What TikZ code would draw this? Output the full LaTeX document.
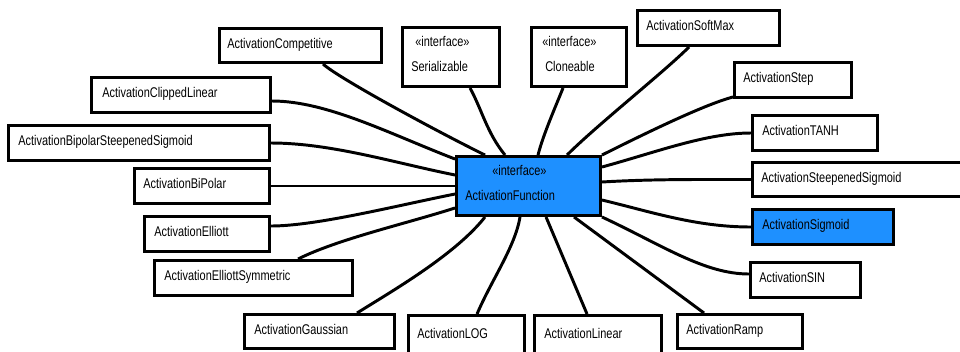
\documentclass[tikz,border=0pt]{standalone}
\usepackage{fontspec}
\setmainfont{Liberation Sans}[FakeStretch=0.78]
\usetikzlibrary{calc,fit}
\definecolor{ifaceblue}{RGB}{30,144,255}
\tikzset{
  classnode/.style={rectangle, draw=black, fill=white, line width=2.1pt, inner sep=0pt, minimum size=0pt},
  selected/.style={fill=ifaceblue},
  classlabel/.style={anchor=base west, inner sep=0pt, font=\fontsize{10}{12}\selectfont},
  link/.style={draw=black, line width=2.1pt},
}
% #1 extra style, #2 name, #3..#6 outer corners, #7 text indent, #8 class name
\newcommand\classbox[8][]{%
  \coordinate (#2-a) at ({#3+1.5},{#4+1.5});
  \coordinate (#2-b) at ({#5-1.5},{#6-1.5});
  \node[classnode, fit=(#2-a)(#2-b), #1] (#2) {};
  \node[classlabel] (#2-label) at ($(#2.west)+(#7,2.5)$) {#8};
}
% interface box: stereotype line and name line
\newcommand\ifacebox[9][]{%
  \coordinate (#2-a) at ({#3+1.5},{#4+1.5});
  \coordinate (#2-b) at ({#5-1.5},{#6-1.5});
  \node[classnode, fit=(#2-a)(#2-b), #1] (#2) {};
  \node[classlabel] (#2-stereo) at ($(#2.north west)+(#7,20)$) {«interface»};
  \node[classlabel] (#2-label) at ($(#2.north west)+(#8,45)$) {#9};
}
\begin{document}
\begin{tikzpicture}[x=0.025cm, y=-0.025cm]
\useasboundingbox (0,0) rectangle (960,351);
\clip (0,0) rectangle (960,351);

% central interface and the interfaces it extends
\ifacebox[selected]{cf}{455}{155}{602}{217}{37}{10}{ActivationFunction}
\ifacebox{ser}{401}{26}{501}{88}{14}{10}{Serializable}
\ifacebox{clo}{530}{26}{628}{88}{12}{15}{Cloneable}

% implementing classes
\classbox{comp}{218}{27}{383}{64}{9}{ActivationCompetitive}
\classbox{clip}{90}{76}{272}{114}{12}{ActivationClippedLinear}
\classbox{bss}{7}{124}{271}{162}{11}{ActivationBipolarSteepenedSigmoid}
\classbox{bip}{133}{167}{271}{205}{10}{ActivationBiPolar}
\classbox{ell}{143}{215}{271}{253}{11}{ActivationElliott}
\classbox{esym}{153}{259}{354}{297}{11}{ActivationElliottSymmetric}
\classbox{gauss}{243}{313}{396}{350}{11}{ActivationGaussian}
\classbox{log}{407}{314}{526}{357}{10}{ActivationLOG}
\classbox{lin}{533}{314}{663}{357}{11}{ActivationLinear}
\classbox{ramp}{676}{313}{804}{350}{10}{ActivationRamp}
\classbox{sin}{749}{261}{862}{299}{10}{ActivationSIN}
\classbox[selected]{sig}{751}{208}{895}{246}{11}{ActivationSigmoid}
\classbox{steep}{751}{161}{980}{198}{10}{ActivationSteepenedSigmoid}
\classbox{tanh}{751}{114}{879}{152}{11}{ActivationTANH}
\classbox{step}{733}{61}{853}{99}{10}{ActivationStep}
\classbox{soft}{636}{9}{781}{47}{10}{ActivationSoftMax}

% connectors to the central interface
\draw[link] ($(comp.south west)+(105,0)$) .. controls +(15,14) and +(-45,-22) .. ($(cf.north west)+(30,0)$);
\draw[link] ($(clip.east)+(0,6)$) .. controls +(55,0) and +(-65,-25) .. ($(cf.north west)+(0,4)$);
\draw[link] (bss.east) .. controls +(60,0) and +(-60,-12) .. ($(cf.west)+(0,-11)$);
\draw[link] (bip.east) -- (cf.west);
\draw[link] ($(ell.east)+(0,-8)$) .. controls +(45,0) and +(-60,12) .. ($(cf.west)+(0,8)$);
\draw[link] ($(esym.north west)+(145,0)$) .. controls +(40,-20) and +(-50,16) .. ($(cf.south west)+(0,-9)$);
\draw[link] ($(gauss.north west)+(114,0)$) .. controls +(35,-22) and +(-30,38) .. ($(cf.south west)+(30,0)$);
\draw[link] ($(log.north west)+(70,0)$) .. controls +(15,-35) and +(-5,30) .. ($(cf.south west)+(65,0)$);
\draw[link] ($(lin.north west)+(54,0)$) -- ($(cf.south west)+(91,0)$);
\draw[link] ($(ramp.north west)+(28,0)$) -- ($(cf.south west)+(119,0)$);
\draw[link] (cf.south east) .. controls +(60,28) and +(-45,0) .. ($(sin.west)+(0,-6)$);
\draw[link] ($(cf.east)+(0,14)$) .. controls +(50,12) and +(-55,0) .. (sig.west);
\draw[link] ($(cf.east)+(0,-4)$) .. controls +(50,-3) and +(-50,0) .. (steep.west);
\draw[link] ($(cf.east)+(0,-19)$) .. controls +(55,-15) and +(-45,0) .. (tanh.west);
\draw[link] (cf.north east) .. controls +(40,-20) and +(-30,8) .. ($(step.south west)+(0,-2)$);
\draw[link] ($(soft.south west)+(53,0)$) .. controls +(-25,25) and +(30,-30) .. ($(cf.north west)+(112,0)$);
\draw[link] ($(clo.south west)+(33,0)$) .. controls +(-8,20) and +(5,-20) .. ($(cf.north west)+(83,0)$);
\draw[link] ($(ser.south west)+(69,0)$) .. controls +(12,22) and +(-18,-22) .. ($(cf.north west)+(50,0)$);
\end{tikzpicture}
\end{document}
